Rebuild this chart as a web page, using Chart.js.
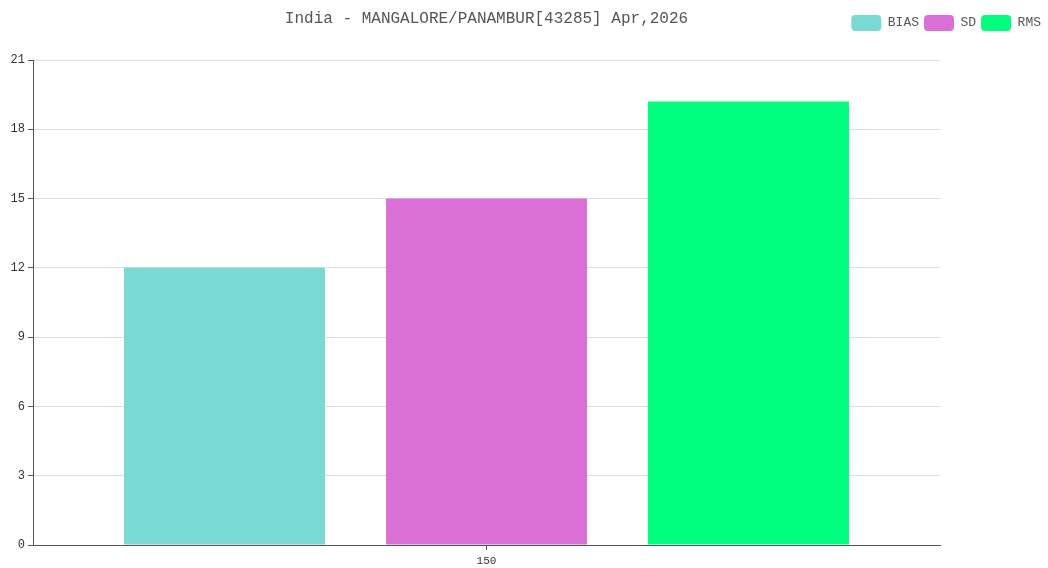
<!DOCTYPE html>
<html>
<head>
<meta charset="utf-8">
<script src="https://cdn.jsdelivr.net/npm/chart.js@4.4.1/dist/chart.umd.min.js"></script>
<style>
    html, body { margin: 0; padding: 0; background: #ffffff; }
    #wrap { position: relative; width: 1048px; height: 568px; }
</style>
</head>
<body>
<div id="wrap"><canvas id="biasChart"></canvas></div>
<script>
const chartTitle = 'India - MANGALORE/PANAMBUR[43285] Apr,2026';
const categories = ['150'];
const seriesNames = ['BIAS', 'SD', 'RMS'];
const biasValues = [12];
const sdValues = [15];
const rmsValues = [19.2];
const yTicks = [0, 3, 6, 9, 12, 15, 18, 21];
const seriesColors = ['#79dad4', '#da70d6', '#00ff7f'];

const FONT = '"Liberation Mono", "DejaVu Sans Mono", monospace';

// 把標題畫在圖表區中央
const centerTitle = {
    id: 'centerTitle',
    afterDraw(chart) {
        const { ctx, chartArea } = chart;
        ctx.save();
        ctx.font = '16px ' + FONT;
        ctx.fillStyle = '#555555';
        ctx.textAlign = 'center';
        ctx.textBaseline = 'middle';
        ctx.fillText(chartTitle, (chartArea.left + chartArea.right) / 2, 19);
        ctx.restore();
    }
};

// 圖例下方多留空間
const legendSpace = {
    id: 'legendSpace',
    beforeInit(chart) {
        const fit = chart.legend.fit;
        chart.legend.fit = function () {
            fit.bind(chart.legend)();
            this.height += 19;
        };
    }
};

function initChart() {
    const ctx = document.getElementById('biasChart');
    if (!ctx) return;

    const values = [biasValues, sdValues, rmsValues];

    new Chart(ctx, {
        type: 'bar',
        data: {
            labels: categories,
            datasets: seriesNames.map((name, i) => ({
                label: name,
                data: values[i],
                backgroundColor: seriesColors[i],
                borderWidth: 0,
                categoryPercentage: 0.8666,
                barPercentage: 0.767
            }))
        },
        options: {
            responsive: true,
            maintainAspectRatio: false,
            animation: false,
            layout: { padding: { top: 10, right: 2, left: 0, bottom: 0 } },
            plugins: {
                title: { display: false },
                tooltip: { enabled: false },
                legend: {
                    position: 'top',
                    align: 'end',
                    labels: {
                        boxWidth: 30,
                        boxHeight: 16,
                        padding: 5,
                        useBorderRadius: true,
                        borderRadius: 4,
                        color: '#555555',
                        font: { family: FONT, size: 13 }
                    }
                }
            },
            scales: {
                x: {
                    afterFit(scale) { scale.height = 23; },
                    grid: {
                        offset: false,
                        drawOnChartArea: false,
                        drawTicks: true,
                        tickLength: 5,
                        tickColor: '#555555'
                    },
                    border: { color: '#555555', width: 1 },
                    ticks: {
                        color: '#333333',
                        padding: 4,
                        font: { family: FONT, size: 11 }
                    }
                },
                y: {
                    min: 0,
                    max: 21,
                    afterBuildTicks(scale) {
                        scale.ticks = yTicks.map(v => ({ value: v }));
                    },
                    afterFit(scale) { scale.width = 33; },
                    grid: {
                        color: '#dddddd',
                        tickLength: 5,
                        tickColor: '#555555'
                    },
                    border: { color: '#555555', width: 1 },
                    ticks: {
                        color: '#333333',
                        padding: 3,
                        font: { family: FONT, size: 12 }
                    }
                },
                yRight: {
                    position: 'right',
                    display: true,
                    grid: { display: false },
                    border: { display: false },
                    ticks: { display: false },
                    afterFit(scale) { scale.width = 106; }
                }
            }
        },
        plugins: [centerTitle, legendSpace]
    });
}

document.addEventListener('DOMContentLoaded', () => {
    initChart();
});
</script>
</body>
</html>
